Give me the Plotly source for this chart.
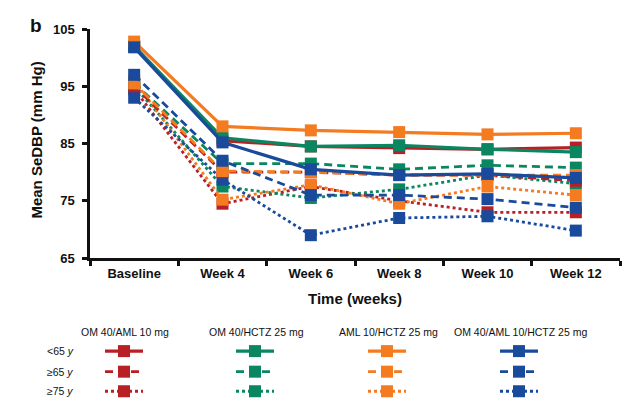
import plotly.graph_objects as go

# ---------------- data ----------------
weeks = ["Baseline", "Week 4", "Week 6", "Week 8", "Week 10", "Week 12"]
treatments = ["OM 40/AML 10 mg", "OM 40/HCTZ 25 mg", "AML 10/HCTZ 25 mg", "OM 40/AML 10/HCTZ 25 mg"]
age_groups = ["<65 y", "≥65 y", "≥75 y"]

om_aml_lt65 = [102.0, 85.5, 84.5, 84.2, 84.0, 84.3]
om_aml_ge65 = [95.0, 80.0, 80.0, 79.5, 79.5, 78.5]
om_aml_ge75 = [94.5, 74.5, 77.5, 75.0, 73.0, 73.0]

om_hctz_lt65 = [102.0, 86.0, 84.5, 84.7, 84.0, 83.5]
om_hctz_ge65 = [95.5, 81.5, 81.5, 80.5, 81.2, 80.8]
om_hctz_ge75 = [95.0, 77.5, 75.5, 77.0, 79.5, 78.0]

aml_hctz_lt65 = [102.8, 88.0, 87.3, 87.0, 86.6, 86.8]
aml_hctz_ge65 = [95.5, 80.2, 80.0, 79.5, 79.5, 79.5]
aml_hctz_ge75 = [96.0, 75.2, 77.8, 74.5, 77.5, 76.0]

triple_lt65 = [101.8, 85.2, 80.5, 79.5, 79.7, 79.0]
triple_ge65 = [97.0, 82.0, 76.0, 76.0, 75.3, 73.8]
triple_ge75 = [93.0, 78.7, 69.0, 72.0, 72.3, 69.8]

y_ticks = [65, 75, 85, 95, 105]

series = {
    "OM 40/AML 10 mg": [om_aml_lt65, om_aml_ge65, om_aml_ge75],
    "OM 40/HCTZ 25 mg": [om_hctz_lt65, om_hctz_ge65, om_hctz_ge75],
    "AML 10/HCTZ 25 mg": [aml_hctz_lt65, aml_hctz_ge65, aml_hctz_ge75],
    "OM 40/AML 10/HCTZ 25 mg": [triple_lt65, triple_ge65, triple_ge75],
}

# ---------------- styles ----------------
colors = ["#B82025", "#0A8660", "#F47B20", "#1A4A9C"]
dashes = ["solid", "8px,5px", "dot"]
widths = [3.2, 2.8, 2.8]

W, H = 633, 413
ML, MR, MT, MB = 82, 21, 21, 10
plot_w = W - ML - MR
plot_h = H - MT - MB
axis_bottom_px = 255


def py_paper(p):
    return (H - MB - p) / plot_h


def px_paper(p):
    return (p - ML) / plot_w


FONT = "Liberation Sans, Arial, sans-serif"

fig = go.Figure()

# main data: dotted first, dashed, then solid
for ai in [2, 1, 0]:
    for ti, t in enumerate(treatments):
        fig.add_trace(go.Scatter(
            x=weeks, y=series[t][ai], mode="lines+markers",
            line=dict(color=colors[ti], width=widths[ai], dash=dashes[ai]),
            marker=dict(symbol="square", size=12, color=colors[ti], opacity=1),
            showlegend=False, xaxis="x", yaxis="y", cliponaxis=False,
        ))

# legend samples (secondary axes in pixel units)
leg_centers = [116, 247, 379, 511]
leg_rows = [350, 371, 391]
half = 19
for ti in range(4):
    for ai in range(3):
        c = leg_centers[ti]
        r = leg_rows[ai]
        fig.add_trace(go.Scatter(
            x=[c - half, c + half], y=[r, r], mode="lines",
            line=dict(color=colors[ti], width=widths[ai], dash=dashes[ai]),
            showlegend=False, xaxis="x2", yaxis="y2", hoverinfo="skip",
        ))
        fig.add_trace(go.Scatter(
            x=[c], y=[r], mode="markers",
            marker=dict(symbol="square", size=12, color=colors[ti], opacity=1),
            showlegend=False, xaxis="x2", yaxis="y2", hoverinfo="skip",
        ))

annotations = []
# legend headers
for ti, t in enumerate(treatments):
    annotations.append(dict(x=leg_centers[ti] + 1, y=330, xref="x2", yref="y2", text=t,
                            showarrow=False, font=dict(family=FONT, size=10.5, color="#111"),
                            xanchor="center", yanchor="middle"))
# row labels
for ai, a in enumerate(age_groups):
    lab = a.replace(" y", " <i>y</i>")
    annotations.append(dict(x=px_paper(37), y=py_paper(leg_rows[ai]), xref="paper", yref="paper",
                            text=lab, showarrow=False, font=dict(family=FONT, size=10.5, color="#111"),
                            xanchor="left", yanchor="middle"))
# axis titles
annotations.append(dict(x=px_paper(347), y=py_paper(296), xref="paper", yref="paper",
                        text="<b>Time (weeks)</b>", showarrow=False,
                        font=dict(family=FONT, size=15, color="#111"), xanchor="center", yanchor="middle"))
annotations.append(dict(x=px_paper(29), y=py_paper(135), xref="paper", yref="paper",
                        text="<b>Mean SeDBP (mm Hg)</b>", showarrow=False, textangle=-90,
                        font=dict(family=FONT, size=15, color="#111"), xanchor="center", yanchor="middle"))
# panel label
annotations.append(dict(x=px_paper(28), y=py_paper(17), xref="paper", yref="paper",
                        text="<b>b</b>", showarrow=False,
                        font=dict(family=FONT, size=19, color="#111"), xanchor="center", yanchor="middle"))

main_dom_bottom = py_paper(axis_bottom_px)

fig.update_layout(
    width=W, height=H,
    margin=dict(l=ML, r=MR, t=MT, b=MB, pad=0),
    paper_bgcolor="white", plot_bgcolor="white",
    showlegend=False,
    font=dict(family=FONT, color="#111"),
    xaxis=dict(
        type="category", categoryorder="array", categoryarray=weeks,
        range=[-0.5, 5.5], domain=[0, 1], anchor="y",
        showline=True, linecolor="#111", linewidth=2.5,
        ticks="outside", tickson="boundaries", ticklen=5, tickwidth=2.5, tickcolor="#111",
        showgrid=False, zeroline=False, ticklabelstandoff=2,
        tickfont=dict(family=FONT, size=13, color="#111", weight="bold"),
    ),
    yaxis=dict(
        range=[65, 105], domain=[main_dom_bottom, 1], anchor="x",
        tickvals=y_ticks, ticktext=[str(v) for v in y_ticks],
        showline=True, linecolor="#111", linewidth=2.5,
        ticks="outside", ticklen=5, tickwidth=2.5, tickcolor="#111",
        showgrid=False, zeroline=False, ticklabelstandoff=5,
        tickfont=dict(family=FONT, size=13, color="#111", weight="bold"),
    ),
    xaxis2=dict(range=[ML, W - MR], domain=[0, 1], anchor="y2", visible=False, fixedrange=True),
    yaxis2=dict(range=[H - MB, axis_bottom_px], domain=[0, main_dom_bottom], anchor="x2",
                visible=False, fixedrange=True),
    annotations=annotations,
)

fig.write_html("out.html")
